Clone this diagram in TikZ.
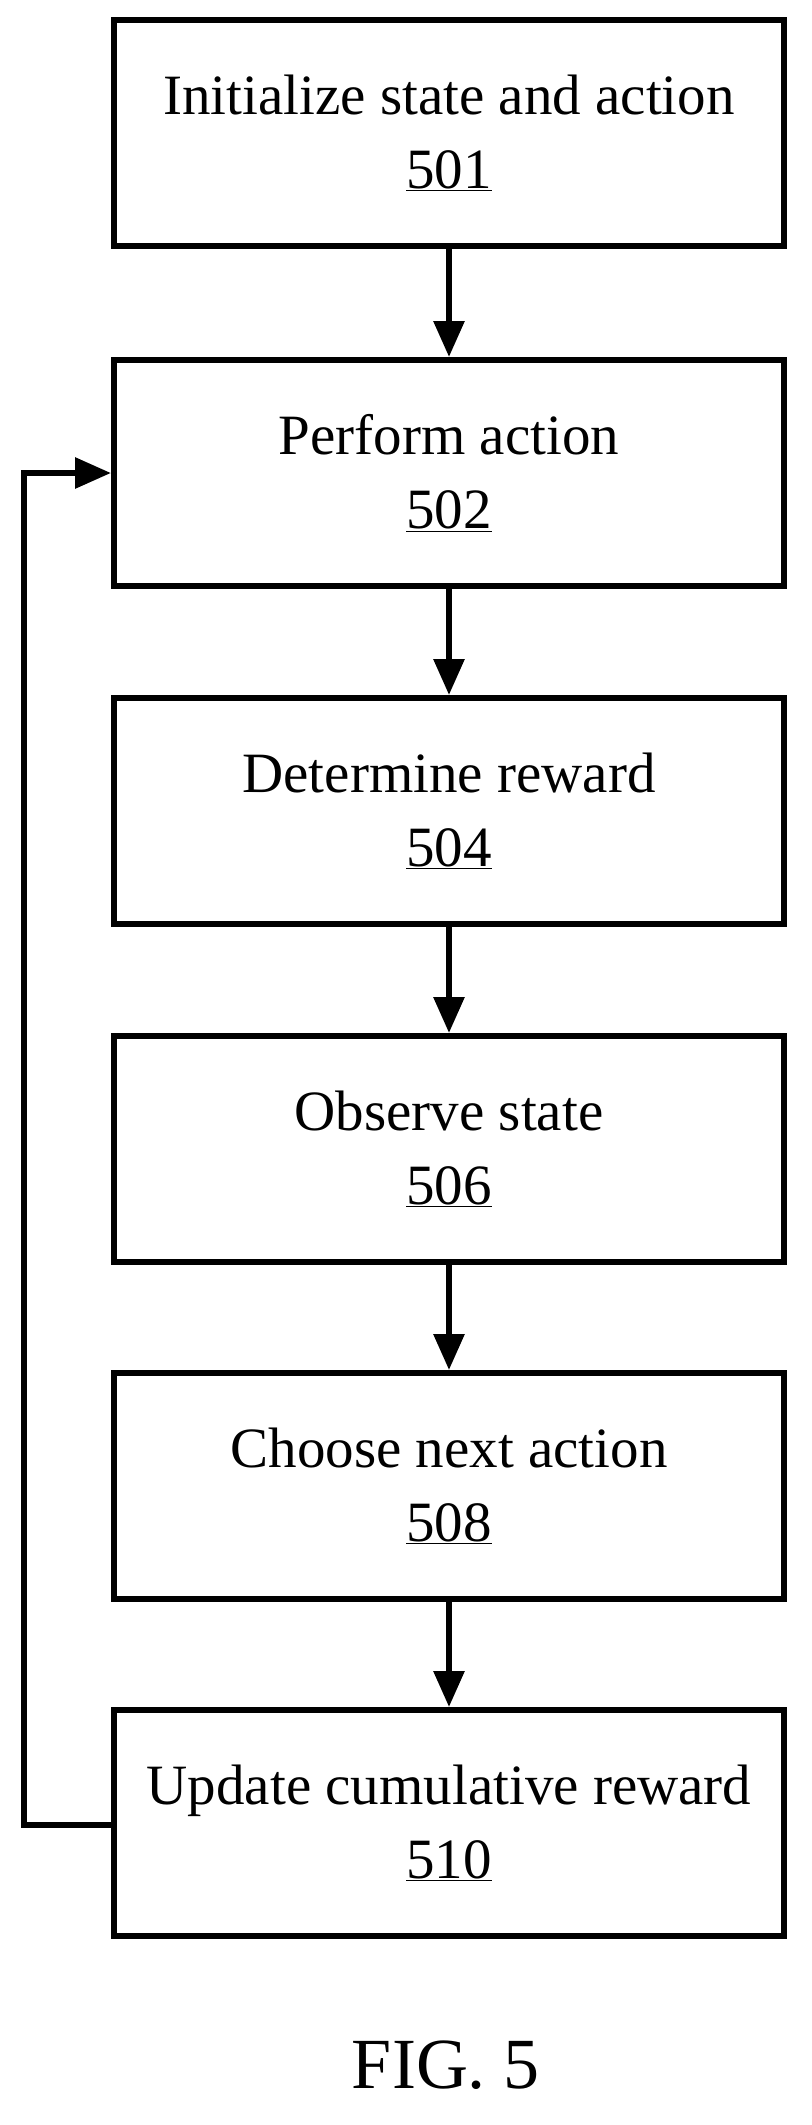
\documentclass[tikz,border=0pt]{standalone}
\usepackage{fontspec}
\setmainfont{Liberation Serif}
\usetikzlibrary{arrows.meta}
\begin{document}
\begin{tikzpicture}[x=1pt,y=-1pt,
  stepbox/.style={draw,line width=6pt,minimum width=670pt,minimum height=226pt,align=center,font=\fontsize{57}{74}\selectfont,inner sep=0pt},
  conn/.style={line width=6pt,-{Triangle[length=36pt,width=30pt]}}]
\useasboundingbox (0,0) rectangle (811,2125);
\node[stepbox] (a) at (449,133) {Initialize state and action\\\underline{501}};
\node[stepbox] (b) at (449,473) {Perform action\\\underline{502}};
\node[stepbox] (c) at (449,811) {Determine reward\\\underline{504}};
\node[stepbox] (d) at (449,1149) {Observe state\\\underline{506}};
\node[stepbox] (e) at (449,1486) {Choose next action\\\underline{508}};
\node[stepbox] (f) at (449,1823) {Update cumulative reward\\\underline{510}};
\draw[conn] (a) -- (b);
\draw[conn] (b) -- (c);
\draw[conn] (c) -- (d);
\draw[conn] (d) -- (e);
\draw[conn] (e) -- (f);
\coordinate (l1) at (24,1825);
\coordinate (l2) at (24,473);
\draw[conn] (f.west |- l1) -- (l1) -- (l2) -- (b.west);
\node[font=\fontsize{72}{80}\selectfont] (fig) at (446,2065) {FIG. 5};
\end{tikzpicture}
\end{document}
